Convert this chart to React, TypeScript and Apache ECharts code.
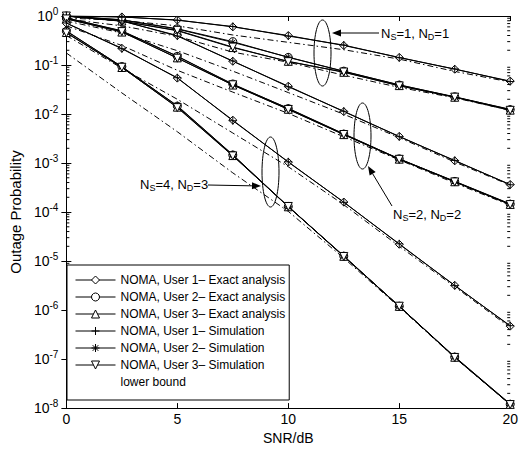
import React, { useEffect, useRef } from 'react';
import * as echarts from 'echarts';

const FONT = 'Arial, "Liberation Sans", Helvetica, sans-serif';

const snr = [0, 2.5, 5, 7.5, 10, 12.5, 15, 17.5, 20];

// Exact analysis (three antenna groups, three users each)
const exactG1U1 = [1.0, 0.955, 0.83, 0.60, 0.40, 0.25, 0.143, 0.082, 0.047];
const exactG1U2 = [1.0, 0.83, 0.55, 0.30, 0.143, 0.075, 0.039, 0.0225, 0.0123];
const exactG1U3 = [1.0, 0.79, 0.50, 0.227, 0.119, 0.071, 0.038, 0.022, 0.012];
const exactG2U1 = [1.0, 0.79, 0.40, 0.119, 0.037, 0.0112, 3.5e-3, 1.11e-3, 3.65e-4];
const exactG2U2 = [0.91, 0.50, 0.15, 0.041, 0.0129, 3.9e-3, 1.22e-3, 4.2e-4, 1.45e-4];
const exactG2U3 = [0.88, 0.47, 0.14, 0.039, 0.0125, 3.8e-3, 1.2e-3, 4.15e-4, 1.43e-4];
const exactG3U1 = [0.71, 0.22, 0.054, 7.5e-3, 1.04e-3, 1.6e-4, 2.2e-5, 3.2e-6, 4.7e-7];
const exactG3U2 = [0.49, 0.093, 0.0145, 1.46e-3, 1.3e-4, 1.26e-5, 1.2e-6, 1.1e-7, 1.2e-8];
const exactG3U3 = [0.46, 0.089, 0.0138, 1.42e-3, 1.28e-4, 1.25e-5, 1.19e-6, 1.09e-7, 1.19e-8];

// Simulation
const simG1U1 = [1.0, 0.96, 0.82, 0.61, 0.39, 0.255, 0.141, 0.083, 0.046];
const simG1U2 = [1.0, 0.84, 0.54, 0.29, 0.145, 0.074, 0.0395, 0.0222, 0.0125];
const simG1U3 = [1.0, 0.78, 0.51, 0.232, 0.117, 0.072, 0.0375, 0.0221, 0.0119];
const simG2U1 = [1.0, 0.80, 0.39, 0.121, 0.036, 0.0114, 3.45e-3, 1.13e-3, 3.6e-4];
const simG2U2 = [0.92, 0.49, 0.152, 0.040, 0.0131, 3.95e-3, 1.21e-3, 4.25e-4, 1.47e-4];
const simG2U3 = [0.87, 0.48, 0.138, 0.0395, 0.0124, 3.82e-3, 1.19e-3, 4.12e-4, 1.42e-4];
const simG3U1 = [0.72, 0.215, 0.055, 7.3e-3, 1.06e-3, 1.58e-4, 2.25e-5, 3.15e-6, 4.8e-7];
const simG3U2 = [0.50, 0.092, 0.0148, 1.48e-3, 1.28e-4, 1.28e-5, 1.19e-6, 1.12e-7, 1.22e-8];
const simG3U3 = [0.45, 0.09, 0.0135, 1.4e-3, 1.3e-4, 1.24e-5, 1.2e-6, 1.08e-7, 1.18e-8];

// Lower bounds
const lbG1U1 = [0.91, 0.81, 0.63, 0.41, 0.29, 0.205, 0.132, 0.074, 0.045];
const lbG1U23 = [0.87, 0.63, 0.385, 0.183, 0.114, 0.062, 0.035, 0.0214, 0.0119];
const lbG2U1 = [0.79, 0.45, 0.196, 0.075, 0.0274, 9.9e-3, 3.3e-3, 1.05e-3, 3.54e-4];
const lbG2U23 = [0.63, 0.25, 0.078, 0.028, 0.0103, 3.43e-3, 1.16e-3, 3.9e-4, 1.38e-4];
const lbG3U1 = [0.40, 0.086, 0.020, 4.1e-3, 8.4e-4, 1.41e-4, 2.0e-5, 3.0e-6, 4.4e-7];
const lbG3U23 = [0.176, 0.027, 4.35e-3, 6.3e-4, 1.03e-4, 1.15e-5, 1.15e-6, 1.07e-7, 1.18e-8];

const N_E1 = 'NOMA, User 1– Exact analysis';
const N_E2 = 'NOMA, User 2– Exact analysis';
const N_E3 = 'NOMA, User 3– Exact analysis';
const N_S1 = 'NOMA, User 1– Simulation';
const N_S2 = 'NOMA, User 2– Simulation';
const N_S3 = 'NOMA, User 3– Simulation';
const N_LB = 'lower bound';

const SYM_PLUS = 'path://M5,0L5,10M0,5L10,5';
const SYM_STAR = 'path://M5,0L5,10M0,5L10,5M1.5,1.5L8.5,8.5M8.5,1.5L1.5,8.5';
const SYM_VTRI = 'path://M0,0L10,0L5,9Z';

function pairs(values: number[]) {
  return snr.map((x, i) => [x, values[i]]);
}

function markerSeries(name: string, values: number[], symbol: string, fill: string, z: number) {
  return {
    type: 'line',
    name,
    data: pairs(values),
    symbol,
    symbolSize: 8,
    showSymbol: true,
    silent: true,
    z,
    lineStyle: { color: '#000', width: 1 },
    itemStyle: { color: fill, borderColor: '#000', borderWidth: 1 },
    emphasis: { disabled: true },
  };
}

function boundSeries(values: number[]) {
  return {
    type: 'line',
    name: N_LB,
    data: pairs(values),
    symbol: 'none',
    silent: true,
    z: 2,
    lineStyle: { color: '#000', width: 1, type: [6, 3, 1.5, 3] },
    itemStyle: { color: '#000' },
    emphasis: { disabled: true },
  };
}

function arrow(x1: number, y1: number, x2: number, y2: number) {
  const ang = Math.atan2(y2 - y1, x2 - x1);
  const L = 9;
  const W = 3.5;
  const bx = x2 - L * Math.cos(ang);
  const by = y2 - L * Math.sin(ang);
  const px = -Math.sin(ang) * W;
  const py = Math.cos(ang) * W;
  return [
    { type: 'line', shape: { x1, y1, x2: bx, y2: by }, style: { stroke: '#000', lineWidth: 1 }, z: 10 },
    {
      type: 'polygon',
      shape: { points: [[x2, y2], [bx + px, by + py], [bx - px, by - py]] },
      style: { fill: '#000' },
      z: 10,
    },
  ];
}

const annRich = {
  b: { fontSize: 13, lineHeight: 17, fontFamily: FONT, fill: '#000', color: '#000' },
  s: { fontSize: 9, lineHeight: 9, verticalAlign: 'bottom', fontFamily: FONT, fill: '#000', color: '#000' },
};

function annText(x: number, y: number, ns: string, nd: string) {
  return {
    type: 'text',
    x,
    y,
    z: 10,
    style: {
      text: `{b|N}{s|S}{b|=${ns}, N}{s|D}{b|=${nd}}`,
      rich: annRich,
      verticalAlign: 'middle',
      align: 'left',
      fill: '#000',
    },
  };
}

function ellipse(cx: number, cy: number, rx: number, ry: number) {
  return {
    type: 'ellipse',
    shape: { cx, cy, rx, ry },
    style: { fill: 'none', stroke: '#000', lineWidth: 1 },
    z: 10,
  };
}

const minorTicks: number[] = [];
for (let e = -8; e < 0; e++) {
  for (let m = 2; m <= 9; m++) minorTicks.push(m * Math.pow(10, e));
}

export default function App() {
  const ref = useRef<HTMLDivElement>(null);

  useEffect(() => {
    if (!ref.current) return;
    const chart = echarts.init(ref.current, null, { renderer: 'svg' });

    const yLabel = {
      show: true,
      margin: 8,
      formatter: (v: number) => `{b|10}{s|${Math.round(Math.log10(v))}}`,
      rich: {
        b: { fontSize: 14, lineHeight: 20, fontFamily: FONT, color: '#000' },
        s: { fontSize: 10, lineHeight: 10, verticalAlign: 'top', fontFamily: FONT, color: '#000' },
      },
    };

    const option: any = {
      animation: false,
      backgroundColor: '#fff',
      textStyle: { fontFamily: FONT },
      grid: { left: 65, right: 8, top: 16, bottom: 36, containLabel: false },
      xAxis: [
        {
          type: 'value',
          min: 0,
          max: 20,
          interval: 5,
          position: 'bottom',
          name: 'SNR/dB',
          nameLocation: 'middle',
          nameGap: 20,
          nameTextStyle: { fontSize: 14, color: '#000', fontFamily: FONT },
          axisLine: { show: true, lineStyle: { color: '#000', width: 1 } },
          axisTick: { show: true, inside: true, length: 5, lineStyle: { color: '#000' } },
          axisLabel: { fontSize: 14, color: '#000', margin: 4, fontFamily: FONT },
          splitLine: { show: false },
        },
        {
          type: 'value',
          min: 0,
          max: 20,
          interval: 5,
          position: 'top',
          axisLine: { show: true, lineStyle: { color: '#000', width: 1 } },
          axisTick: { show: true, inside: true, length: 5, lineStyle: { color: '#000' } },
          axisLabel: { show: false },
          splitLine: { show: false },
        },
      ],
      yAxis: [
        {
          type: 'log',
          logBase: 10,
          min: 1e-8,
          max: 1,
          position: 'left',
          name: 'Outage Probability',
          nameLocation: 'middle',
          nameGap: 38,
          nameTextStyle: { fontSize: 15, color: '#000', fontFamily: FONT },
          axisLine: { show: true, lineStyle: { color: '#000', width: 1 } },
          axisTick: { show: true, inside: true, length: 5, lineStyle: { color: '#000' } },
          axisLabel: yLabel,
          splitLine: { show: false },
        },
        {
          type: 'log',
          logBase: 10,
          min: 1e-8,
          max: 1,
          position: 'right',
          axisLine: { show: true, lineStyle: { color: '#000', width: 1 } },
          axisTick: { show: true, inside: true, length: 5, lineStyle: { color: '#000' } },
          axisLabel: { show: false },
          splitLine: { show: false },
        },
      ],
      legend: {
        orient: 'vertical',
        left: 67,
        top: 265,
        itemWidth: 40,
        itemHeight: 10,
        itemGap: 5,
        padding: [9, 4, 12, 8],
        backgroundColor: '#fff',
        borderColor: '#000',
        borderWidth: 1,
        selectedMode: false,
        itemStyle: { borderWidth: 1 },
        lineStyle: { width: 1 },
        textStyle: { fontSize: 12, color: '#000', fontFamily: FONT },
        data: [
          { name: N_E1 },
          { name: N_E2 },
          { name: N_E3 },
          { name: N_S1 },
          { name: N_S2 },
          { name: N_S3 },
          { name: N_LB, icon: 'none', itemStyle: { opacity: 0 }, lineStyle: { opacity: 0 } },
        ],
      },
      series: [
        {
          type: 'custom',
          name: 'minor ticks',
          silent: true,
          z: 1,
          data: minorTicks.map((v) => [0, v]),
          renderItem: (params: any, api: any) => {
            const y = api.coord([0, api.value(1)])[1];
            const cs = params.coordSys;
            return {
              type: 'group',
              children: [
                { type: 'line', shape: { x1: cs.x, y1: y, x2: cs.x + 3, y2: y }, style: { stroke: '#000', lineWidth: 1 } },
                {
                  type: 'line',
                  shape: { x1: cs.x + cs.width - 3, y1: y, x2: cs.x + cs.width, y2: y },
                  style: { stroke: '#000', lineWidth: 1 },
                },
              ],
            };
          },
        },
        boundSeries(lbG1U1),
        boundSeries(lbG1U23),
        boundSeries(lbG2U1),
        boundSeries(lbG2U23),
        boundSeries(lbG3U1),
        boundSeries(lbG3U23),
        markerSeries(N_E1, exactG1U1, 'diamond', '#fff', 3),
        markerSeries(N_E2, exactG1U2, 'circle', '#fff', 3),
        markerSeries(N_E3, exactG1U3, 'triangle', '#fff', 3),
        markerSeries(N_E1, exactG2U1, 'diamond', '#fff', 3),
        markerSeries(N_E2, exactG2U2, 'circle', '#fff', 3),
        markerSeries(N_E3, exactG2U3, 'triangle', '#fff', 3),
        markerSeries(N_E1, exactG3U1, 'diamond', '#fff', 3),
        markerSeries(N_E2, exactG3U2, 'circle', '#fff', 3),
        markerSeries(N_E3, exactG3U3, 'triangle', '#fff', 3),
        markerSeries(N_S1, simG1U1, SYM_PLUS, 'transparent', 4),
        markerSeries(N_S2, simG1U2, SYM_STAR, 'transparent', 4),
        markerSeries(N_S3, simG1U3, SYM_VTRI, '#fff', 4),
        markerSeries(N_S1, simG2U1, SYM_PLUS, 'transparent', 4),
        markerSeries(N_S2, simG2U2, SYM_STAR, 'transparent', 4),
        markerSeries(N_S3, simG2U3, SYM_VTRI, '#fff', 4),
        markerSeries(N_S1, simG3U1, SYM_PLUS, 'transparent', 4),
        markerSeries(N_S2, simG3U2, SYM_STAR, 'transparent', 4),
        markerSeries(N_S3, simG3U3, SYM_VTRI, '#fff', 4),
      ],
      graphic: [
        ellipse(322.5, 53, 8.5, 33),
        ellipse(362.5, 136, 8.5, 33),
        ellipse(270.5, 172, 8.5, 35),
        ...arrow(379, 33, 332, 33),
        ...arrow(392, 206, 368, 166),
        ...arrow(208, 185, 261, 186),
        annText(381, 33, '1', '1'),
        annText(393, 214, '2', '2'),
        annText(140, 184, '4', '3'),
      ],
    };

    chart.setOption(option);
    return () => chart.dispose();
  }, []);

  return (
    <div
      ref={ref}
      style={{ position: 'absolute', left: 0, top: 0, width: 521, height: 450, background: '#fff' }}
    />
  );
}
